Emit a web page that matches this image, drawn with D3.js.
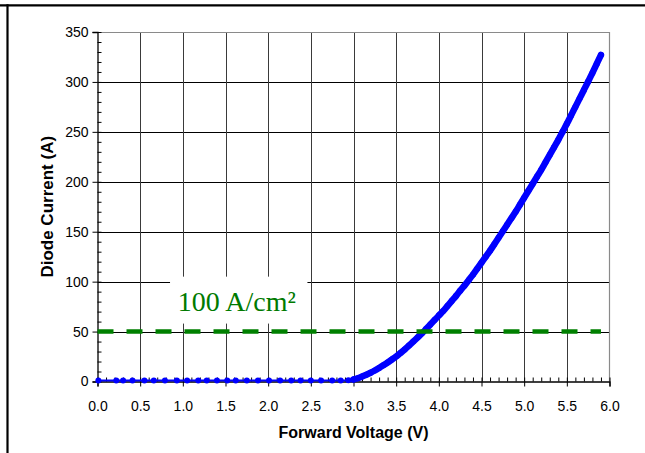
<!DOCTYPE html>
<html>
<head>
<meta charset="utf-8">
<script src="https://cdn.jsdelivr.net/npm/d3@7"></script>
<style>
  html, body { margin: 0; padding: 0; background: #fff; }
  svg { display: block; }
</style>
</head>
<body>
<svg id="chart" width="645" height="453"></svg>
<script>
// ---- data ----
// sparse part of the sweep (low voltage)
const lowVoltage = [0.01, 0.22, 0.30, 0.41, 0.55, 0.66, 0.79, 0.93, 1.05, 1.18, 1.28, 1.40, 1.52, 1.62, 1.75, 1.88, 2.01, 2.14, 2.27, 2.38, 2.50, 2.62, 2.75, 2.85, 2.94];
const lowCurrent = [1, 1, 1, 1, 1, 1, 1, 1, 1, 1, 1, 1, 1, 1, 1, 1, 1, 1, 1, 1, 1, 1, 1, 1, 1.2];
// dense part of the sweep (turn-on region)
const highVoltage = [3.00, 3.05, 3.10, 3.15, 3.20, 3.25, 3.30, 3.35, 3.40, 3.45, 3.50, 3.55, 3.60, 3.65, 3.70, 3.75, 3.80, 3.85, 3.90, 3.95,
                     4.00, 4.05, 4.10, 4.15, 4.20, 4.25, 4.30, 4.35, 4.40, 4.45, 4.50, 4.55, 4.60, 4.65, 4.70, 4.75, 4.80, 4.85, 4.90, 4.95,
                     5.00, 5.05, 5.10, 5.15, 5.20, 5.25, 5.30, 5.35, 5.40, 5.45, 5.50, 5.55, 5.60, 5.65, 5.70, 5.75, 5.80, 5.85, 5.90];
const highCurrent = [2, 3.3, 5, 6.8, 8.8, 11, 13.5, 16.2, 19, 22, 25, 28.5, 32, 36, 40, 44, 48, 52.5, 57, 61.5,
                     66, 70.5, 75.5, 80.5, 85.5, 91, 96, 101.5, 107, 113, 119, 125, 131, 137.5, 144, 150.5, 157, 163.5, 170, 177,
                     184, 191, 198, 205, 212, 219.5, 227, 234.5, 242, 250, 258, 266.5, 275, 283.5, 292, 300.5, 309, 318, 327];
// reference current density line
const refVoltage = [0, 5.9];
const refCurrent = [50, 50];
const refLabel = "100 A/cm²";
const xTicks = [0, 0.5, 1, 1.5, 2, 2.5, 3, 3.5, 4, 4.5, 5, 5.5, 6];
const yTicks = [0, 50, 100, 150, 200, 250, 300, 350];
const xTitle = "Forward Voltage (V)";
const yTitle = "Diode Current (A)";

// ---- layout ----
const svg = d3.select("#chart");
const L = 97.5, R = 609.5, T = 32, B = 381.5;
const x = d3.scaleLinear().domain([0, 6]).range([L, R]);
const y = d3.scaleLinear().domain([0, 350]).range([B, T]);

// outer frame lines
svg.append("line").attr("x1", 0).attr("x2", 645).attr("y1", 5.3).attr("y2", 5.3)
  .attr("stroke", "#000").attr("stroke-width", 2.2);
svg.append("line").attr("x1", 7.5).attr("x2", 7.5).attr("y1", 4.2).attr("y2", 453)
  .attr("stroke", "#000").attr("stroke-width", 2.2);

// gridlines
const g = svg.append("g");
g.selectAll("line.hg").data(yTicks.filter(v => v > 0 && v < 350)).join("line")
  .attr("x1", L).attr("x2", R).attr("y1", d => Math.round(y(d)) + 0.5).attr("y2", d => Math.round(y(d)) + 0.5)
  .attr("stroke", "#000").attr("stroke-width", 1);
g.selectAll("line.vg").data(xTicks.filter(v => v > 0 && v < 6)).join("line")
  .attr("x1", d => Math.round(x(d)) + 0.5).attr("x2", d => Math.round(x(d)) + 0.5).attr("y1", T).attr("y2", B)
  .attr("stroke", "#3a3a3a").attr("stroke-width", 1);
// plot border top / right (grey)
g.append("line").attr("x1", L).attr("x2", R + 0.5).attr("y1", T + 0.5).attr("y2", T + 0.5).attr("stroke", "#8a8a8a").attr("stroke-width", 1.2);
g.append("line").attr("x1", R).attr("x2", R).attr("y1", T).attr("y2", B).attr("stroke", "#8a8a8a").attr("stroke-width", 1.2);

// label box (covers grid)
const lblX = 1.0, lblY = 100;
const lbl = svg.append("g");
lbl.append("rect").attr("x", x(0.85)).attr("y", y(105)).attr("width", x(2.46) - x(0.85)).attr("height", y(58) - y(105))
  .attr("fill", "#fff");

// axes
const yAxis = d3.axisLeft(y).tickValues(yTicks).tickSize(5).tickPadding(4).tickFormat(d3.format("d"));
const yMinor = d3.axisRight(y).tickValues(d3.range(0, 351, 10)).tickSize(4).tickFormat("");
const xAxis = d3.axisBottom(x).tickValues(xTicks).tickSize(5).tickPadding(14.5).tickFormat(d3.format(".1f"));
const xMinor = d3.axisTop(x).tickValues(d3.range(0, 61, 1).map(v => v / 10)).tickSize(4).tickFormat("");

function styleAxis(sel) {
  sel.select(".domain").attr("stroke", "#000").attr("stroke-width", 1.3);
  sel.selectAll(".tick line").attr("stroke", "#000").attr("stroke-width", 1);
  sel.selectAll("text").attr("fill", "#000").style("font-family", "'Liberation Sans', Arial, sans-serif").style("font-size", "14px");
}
svg.append("g").attr("transform", `translate(${L},0)`).call(yMinor).call(styleAxis).select(".domain").remove();
svg.append("g").attr("transform", `translate(0,${B})`).call(xMinor).call(styleAxis).select(".domain").remove();
svg.append("g").attr("transform", `translate(${L},0)`).call(yAxis).call(styleAxis);
svg.append("g").attr("transform", `translate(0,${B})`).call(xAxis).call(styleAxis);

// axis titles
svg.append("text").attr("x", (L + R) / 2).attr("y", 438).attr("text-anchor", "middle")
  .style("font-family", "'Liberation Sans', Arial, sans-serif").style("font-size", "16px").style("font-weight", "bold")
  .text(xTitle);
svg.append("text").attr("transform", `translate(53,${(T + B) / 2}) rotate(-90)`).attr("text-anchor", "middle")
  .style("font-family", "'Liberation Sans', Arial, sans-serif").style("font-size", "17px").style("font-weight", "bold")
  .text(yTitle);

// diode series
const lowPts = lowVoltage.map((v, i) => [v, lowCurrent[i]]);
const highPts = highVoltage.map((v, i) => [v, highCurrent[i]]);
const allPts = lowPts.concat(highPts);
const line = d3.line().x(d => x(d[0])).y(d => y(d[1]));
const curve = d3.line().curve(d3.curveMonotoneX).x(d => x(d[0])).y(d => y(d[1]));
const series = svg.append("g");
series.append("path").datum(allPts).attr("d", line).attr("fill", "none").attr("stroke", "#0000ff").attr("stroke-width", 1.8);
series.append("path").datum(highPts).attr("d", curve).attr("fill", "none").attr("stroke", "#0000ff")
  .attr("stroke-width", 6.5).attr("stroke-linejoin", "round").attr("stroke-linecap", "round");
series.selectAll("circle").data(allPts).join("circle")
  .attr("cx", d => x(d[0])).attr("cy", d => y(d[1])).attr("r", 3).attr("fill", "#0000ff");

// reference dashed line
const refPts = refVoltage.map((v, i) => [v, refCurrent[i]]);
svg.append("path").datum(refPts).attr("d", line).attr("fill", "none").attr("stroke", "#008000")
  .attr("stroke-width", 4.5).attr("stroke-dasharray", "16,13");

// label text
lbl.append("text").attr("x", x(lblX) - 5).attr("y", y(lblY) + 29)
  .style("font-family", "'Liberation Serif', 'Times New Roman', serif").style("font-size", "28px").attr("fill", "#007a00")
  .text(refLabel);
</script>
</body>
</html>
